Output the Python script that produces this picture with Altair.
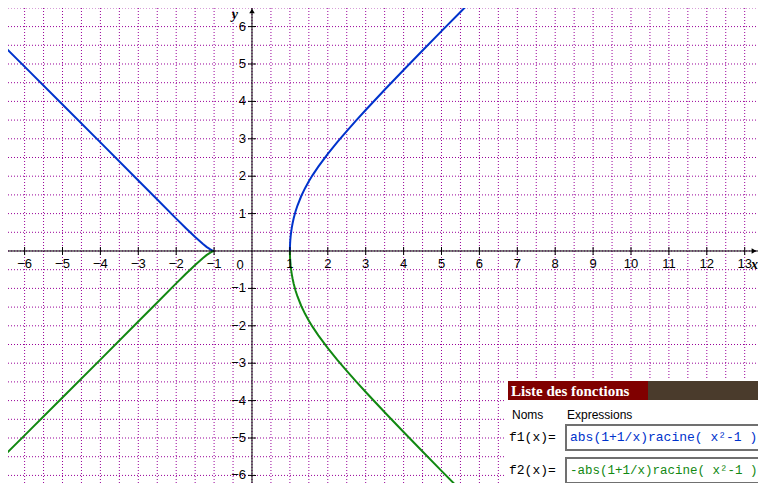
import altair as alt
import pandas as pd
import numpy as np

# ---- data ----
x_left = [-6.7, -6.0, -5.0, -4.0, -3.0, -2.5, -2.0, -1.75, -1.5, -1.3, -1.2, -1.1, -1.05, -1.0]
f1_left = [5.636, 4.930, 3.919, 2.905, 1.886, 1.375, 0.866, 0.616, 0.373, 0.192, 0.111, 0.042, 0.015, 0.0]
f2_left = [-5.636, -4.930, -3.919, -2.905, -1.886, -1.375, -0.866, -0.616, -0.373, -0.192, -0.111, -0.042, -0.015, 0.0]

x_right = [1.0, 1.001, 1.005, 1.01, 1.02, 1.03, 1.05, 1.07, 1.1, 1.15, 1.2, 1.3, 1.4, 1.5, 1.6,
           1.75, 2.0, 2.25, 2.5, 2.75, 3.0, 3.5, 4.0, 4.5, 5.0, 5.5, 6.0]
f1_right = [0.0, 0.0894, 0.1997, 0.2822, 0.398, 0.4864, 0.625, 0.7365, 0.875, 1.0617, 1.216, 1.470,
            1.680, 1.863, 2.030, 2.257, 2.598, 2.911, 3.207, 3.493, 3.771, 4.312, 4.841, 5.362,
            5.879, 6.391, 6.902]
f2_right = [0.0, -0.0894, -0.1997, -0.2822, -0.398, -0.4864, -0.625, -0.7365, -0.875, -1.0617, -1.216,
            -1.470, -1.680, -1.863, -2.030, -2.257, -2.598, -2.911, -3.207, -3.493, -3.771, -4.312,
            -4.841, -5.362, -5.879, -6.391, -6.902]

x_ticks = [-6, -5, -4, -3, -2, -1, 1, 2, 3, 4, 5, 6, 7, 8, 9, 10, 11, 12, 13]
y_ticks = [-6, -5, -4, -3, -2, -1, 1, 2, 3, 4, 5, 6]

series_names = ["f1", "f2"]
series_colors = ["#0033cc", "#118811"]
f1_expr = "abs(1+1/x)racine( x²-1 )"
f2_expr = "-abs(1+1/x)racine( x²-1 )"

# ---- layout ----
W, H = 750, 475
XMIN, XMAX = -6.438, 13.351
YMIN, YMAX = -6.203, 6.497

xs = alt.Scale(domain=[XMIN, XMAX], nice=False, zero=False)
ys = alt.Scale(domain=[YMIN, YMAX], nice=False, zero=False)

grid_x = [float(v) for v in np.arange(-6.0, 13.51, 0.5)]
grid_y = [float(v) for v in np.arange(-6.0, 6.51, 0.5)]

GRID_STYLE = dict(color="#990099", strokeDash=[1, 2], strokeWidth=1, opacity=1)

vgrid = alt.Chart(pd.DataFrame({"x": grid_x})).mark_rule(**GRID_STYLE).encode(
    x=alt.X("x:Q", scale=xs, axis=None), y=alt.value(0), y2=alt.value(H))
hgrid = alt.Chart(pd.DataFrame({"y": grid_y})).mark_rule(**GRID_STYLE).encode(
    y=alt.Y("y:Q", scale=ys, axis=None), x=alt.value(0), x2=alt.value(W))

rows = []
for xv, yv in zip(x_left, f1_left):
    rows.append({"x": xv, "y": yv, "s": "f1", "b": "f1L"})
for xv, yv in zip(x_left, f2_left):
    rows.append({"x": xv, "y": yv, "s": "f2", "b": "f2L"})
for xv, yv in zip(x_right, f1_right):
    rows.append({"x": xv, "y": yv, "s": "f1", "b": "f1R"})
for xv, yv in zip(x_right, f2_right):
    rows.append({"x": xv, "y": yv, "s": "f2", "b": "f2R"})
curves_df = pd.DataFrame(rows)

axis_df = pd.DataFrame({"x": [0.0]})
x_axis = alt.Chart(axis_df).mark_rule(color="black", strokeWidth=1).encode(
    x=alt.value(0), x2=alt.value(W), y=alt.datum(0.0, scale=ys, axis=None))
y_axis = alt.Chart(axis_df).mark_rule(color="black", strokeWidth=1).encode(
    x=alt.datum(0.0, scale=xs, axis=None), y=alt.value(0), y2=alt.value(H))

xt_df = pd.DataFrame({"x": x_ticks, "lab": [str(v).replace("-", "\u2212") for v in x_ticks]})
yt_df = pd.DataFrame({"y": y_ticks, "lab": [str(v).replace("-", "\u2212") for v in y_ticks]})

x_tick_marks = alt.Chart(xt_df).mark_tick(orient="vertical", size=8, thickness=1, color="black", opacity=1).encode(
    x=alt.X("x:Q", scale=xs, axis=None), y=alt.datum(0.0, scale=ys, axis=None))
y_tick_marks = alt.Chart(yt_df).mark_tick(orient="horizontal", size=8, thickness=1, color="black", opacity=1).encode(
    y=alt.Y("y:Q", scale=ys, axis=None), x=alt.datum(0.0, scale=xs, axis=None))

LBL = dict(font="Liberation Sans", fontSize=13, color="black")
x_labels = alt.Chart(xt_df).mark_text(dy=13, align="center", baseline="middle", **LBL).encode(
    x=alt.X("x:Q", scale=xs, axis=None), y=alt.datum(0.0, scale=ys, axis=None), text="lab:N")
y_labels = alt.Chart(yt_df).mark_text(dx=-6, align="right", baseline="middle", **LBL).encode(
    y=alt.Y("y:Q", scale=ys, axis=None), x=alt.datum(0.0, scale=xs, axis=None), text="lab:N")
zero_label = alt.Chart(axis_df).mark_text(dx=-12, dy=14, align="center", baseline="middle", **LBL).encode(
    x=alt.datum(0.0, scale=xs, axis=None), y=alt.datum(0.0, scale=ys, axis=None), text=alt.value("0"))

x_arrow = alt.Chart(axis_df).mark_point(shape="triangle-right", filled=True, size=30, color="black", opacity=1).encode(
    x=alt.value(W - 4), y=alt.datum(0.0, scale=ys, axis=None))
y_arrow = alt.Chart(axis_df).mark_point(shape="triangle-up", filled=True, size=30, color="black", opacity=1).encode(
    x=alt.datum(0.0, scale=xs, axis=None), y=alt.value(3))

AX = dict(font="Liberation Serif", fontSize=14, fontStyle="italic", fontWeight="bold", color="black")
x_name = alt.Chart(axis_df).mark_text(align="right", baseline="middle", dy=14, **AX).encode(
    x=alt.value(W), y=alt.datum(0.0, scale=ys, axis=None), text=alt.value("x"))
y_name = alt.Chart(axis_df).mark_text(align="right", baseline="middle", dx=-14, **AX).encode(
    x=alt.datum(0.0, scale=xs, axis=None), y=alt.value(7), text=alt.value("y"))

curves = alt.Chart(curves_df).mark_line(strokeWidth=2, clip=True).encode(
    x=alt.X("x:Q", scale=xs, axis=None),
    y=alt.Y("y:Q", scale=ys, axis=None),
    color=alt.Color("s:N", scale=alt.Scale(domain=series_names, range=series_colors), legend=None),
    detail="b:N",
    order=alt.Order("x:Q"),
)

# ---- function list panel ----
one = pd.DataFrame({"a": [0]})
panel_bg = alt.Chart(one).mark_rect(color="white").encode(
    x=alt.value(497), x2=alt.value(W), y=alt.value(372), y2=alt.value(H))
head_red = alt.Chart(one).mark_rect(color="#800000").encode(
    x=alt.value(500), x2=alt.value(640), y=alt.value(373), y2=alt.value(392))
head_brown = alt.Chart(one).mark_rect(color="#4a3b2c").encode(
    x=alt.value(640), x2=alt.value(W), y=alt.value(373), y2=alt.value(392))
head_text = alt.Chart(one).mark_text(align="left", baseline="alphabetic", font="Liberation Serif",
                                     fontSize=15, fontWeight="bold", color="white").encode(
    x=alt.value(503), y=alt.value(388), text=alt.value("Liste des fonctions"))
noms = alt.Chart(one).mark_text(align="left", baseline="middle", font="Liberation Sans", fontSize=12,
                                color="black").encode(x=alt.value(504), y=alt.value(407), text=alt.value("Noms"))
exprs = alt.Chart(one).mark_text(align="left", baseline="middle", font="Liberation Sans", fontSize=12,
                                 color="black").encode(x=alt.value(559), y=alt.value(407), text=alt.value("Expressions"))
box1 = alt.Chart(one).mark_rect(fill="white", stroke="#707070", strokeWidth=2).encode(
    x=alt.value(558), x2=alt.value(W + 2), y=alt.value(417), y2=alt.value(442))
box2 = alt.Chart(one).mark_rect(fill="white", stroke="#707070", strokeWidth=2).encode(
    x=alt.value(558), x2=alt.value(W + 2), y=alt.value(450), y2=alt.value(475))
MONO = dict(font="Liberation Mono", fontSize=13, baseline="middle", align="left")
n1 = alt.Chart(one).mark_text(color="black", **MONO).encode(x=alt.value(501), y=alt.value(429), text=alt.value("f1(x)="))
n2 = alt.Chart(one).mark_text(color="black", **MONO).encode(x=alt.value(501), y=alt.value(462), text=alt.value("f2(x)="))
e1 = alt.Chart(one).mark_text(color=series_colors[0], **MONO).encode(x=alt.value(562), y=alt.value(429), text=alt.value(f1_expr))
e2 = alt.Chart(one).mark_text(color=series_colors[1], fontSize=12.5, font="Liberation Mono", baseline="middle",
                              align="left").encode(x=alt.value(562), y=alt.value(462), text=alt.value(f2_expr))

chart = alt.layer(
    vgrid, hgrid, curves, x_axis, y_axis, x_tick_marks, y_tick_marks, x_labels, y_labels, zero_label,
    x_arrow, y_arrow, x_name, y_name,
    panel_bg, head_red, head_brown, head_text, noms, exprs, box1, box2, n1, n2, e1, e2,
).properties(
    width=W, height=H, padding=0, autosize=alt.AutoSizeParams(type="none"), background="white"
).configure_view(stroke=None)

chart.save("out.html", embed_options={"renderer": "svg", "actions": False})
